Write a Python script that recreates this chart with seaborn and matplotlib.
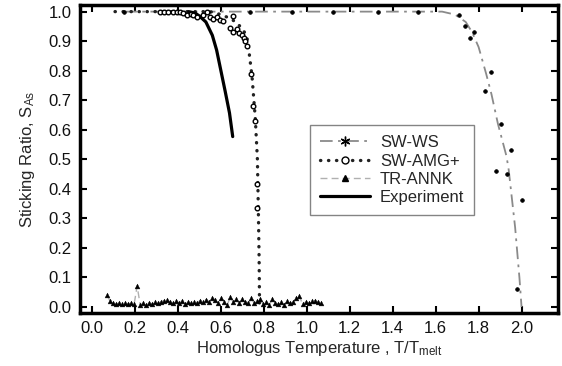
import numpy as np
import pandas as pd
import matplotlib
matplotlib.use("Agg")
import matplotlib.pyplot as plt
import seaborn as sns
from matplotlib.lines import Line2D

# SW-WS: fitted curve and simulation points
ws_line_x = [0.15, 1.63, 1.69, 1.74, 1.77, 1.80, 1.835, 1.86, 1.89, 1.93, 1.94, 1.97, 1.99, 2.0]
ws_line_y = [1.0, 1.0, 0.99, 0.965, 0.93, 0.88, 0.79, 0.72, 0.62, 0.51, 0.465, 0.27, 0.10, 0.0]
ws_pts_x = [0.15, 0.34, 0.54, 0.735, 0.93, 1.12, 1.33, 1.52, 1.71, 1.735, 1.78, 1.76,
            1.856, 1.83, 1.906, 1.953, 1.88, 1.93, 2.003, 1.98]
ws_pts_y = [1.0, 1.0, 1.0, 1.0, 1.0, 1.0, 1.0, 1.0, 0.99, 0.953, 0.93, 0.91,
            0.797, 0.73, 0.62, 0.53, 0.46, 0.45, 0.363, 0.06]

# SW-AMG+: dotted curve and open-circle points
amg_line_x = [0.107, 0.55, 0.60, 0.65, 0.69, 0.72, 0.73, 0.745, 0.76, 0.77, 0.775, 0.778, 0.78, 0.782]
amg_line_y = [1.0, 1.0, 0.99, 0.975, 0.95, 0.92, 0.87, 0.78, 0.64, 0.50, 0.30, 0.16, 0.0, -0.01]
amg_pts_x = [0.316, 0.335, 0.355, 0.375, 0.395, 0.41, 0.425, 0.443, 0.459, 0.471, 0.487,
             0.518, 0.533, 0.549, 0.564, 0.580, 0.595, 0.608, 0.657, 0.642, 0.657, 0.676,
             0.685, 0.696, 0.707, 0.714, 0.722, 0.74, 0.75, 0.76, 0.766, 0.77]
amg_pts_y = [1.0, 1.0, 1.0, 1.0, 1.0, 1.0, 0.995, 0.99, 0.993, 0.987, 0.982,
             0.99, 0.998, 0.982, 0.975, 0.982, 0.97, 0.967, 0.984, 0.945, 0.93, 0.942,
             0.928, 0.922, 0.911, 0.90, 0.883, 0.79, 0.68, 0.63, 0.417, 0.335]

# TR-ANNK
annk_x = [0.070, 0.084, 0.098, 0.112, 0.126, 0.140, 0.154, 0.168, 0.182, 0.196,
          0.210, 0.224, 0.238, 0.252, 0.266, 0.280, 0.294, 0.308, 0.322, 0.336,
          0.350, 0.364, 0.378, 0.392, 0.406, 0.420, 0.434, 0.448, 0.462, 0.476,
          0.490, 0.504, 0.518, 0.532, 0.546, 0.560, 0.574, 0.588, 0.602, 0.616,
          0.630, 0.644, 0.658, 0.672, 0.686, 0.700, 0.714, 0.728, 0.742, 0.756,
          0.770, 0.784, 0.798, 0.812, 0.826, 0.840, 0.854, 0.868, 0.882, 0.896,
          0.910, 0.924, 0.938, 0.952, 0.966, 0.980, 0.994, 1.008, 1.022, 1.036,
          1.050, 1.064]
annk_y = [0.040, 0.020, 0.012, 0.010, 0.013, 0.010, 0.012, 0.011, 0.012, 0.010,
          0.071, 0.008, 0.012, 0.006, 0.014, 0.010, 0.016, 0.013, 0.018, 0.022,
          0.025, 0.016, 0.012, 0.020, 0.014, 0.020, 0.010, 0.016, 0.012, 0.018,
          0.014, 0.022, 0.016, 0.025, 0.018, 0.032, 0.024, 0.012, 0.030, 0.018,
          0.008, 0.034, 0.016, 0.026, 0.012, 0.028, 0.018, 0.014, 0.030, 0.012,
          0.022, 0.026, 0.010, 0.018, 0.008, 0.028, 0.012, 0.010, 0.016, 0.008,
          0.020, 0.014, 0.016, 0.030, 0.036, 0.010, 0.016, 0.014, 0.020, 0.022,
          0.018, 0.012]

# Experiment
exp_x = [0.45, 0.48, 0.50, 0.53, 0.56, 0.58, 0.60, 0.62, 0.64, 0.655]
exp_y = [1.0, 0.995, 0.985, 0.965, 0.92, 0.87, 0.80, 0.73, 0.657, 0.577]

labels = ["SW-WS", "SW-AMG+", "TR-ANNK", "Experiment"]

sns.set_style("ticks")
plt.rcParams["font.family"] = ["Liberation Sans", "DejaVu Sans"]
plt.rcParams["mathtext.default"] = "regular"

fig = plt.figure(figsize=(5.62, 3.66), dpi=100)
ax = fig.add_axes([0.142, 0.145, 0.851, 0.841])

gray_ws = "#8a8a8a"
gray_annk = "#b0b0b0"

# lines
sns.lineplot(x=ws_line_x, y=ws_line_y, sort=False, estimator=None, ax=ax,
             color=gray_ws, lw=1.3, linestyle=(0, (7, 3, 1.5, 3)))
sns.lineplot(x=annk_x, y=annk_y, sort=False, estimator=None, ax=ax,
             color=gray_annk, lw=1.0, linestyle=(0, (5, 3)))
sns.lineplot(x=amg_line_x, y=amg_line_y, sort=False, estimator=None, ax=ax,
             color="#222222", lw=2.4, linestyle=(0, (0.1, 2.3)), dash_capstyle="round")
sns.lineplot(x=exp_x, y=exp_y, sort=False, estimator=None, ax=ax,
             color="black", lw=2.3)

# markers
sns.scatterplot(x=ws_pts_x, y=ws_pts_y, ax=ax, marker="o", s=7, color="black",
                edgecolor="black", linewidth=0.5, zorder=4)
sns.scatterplot(x=amg_pts_x, y=amg_pts_y, ax=ax, marker="o", s=11, facecolor="white",
                edgecolor="black", linewidth=1.0, zorder=4)
sns.scatterplot(x=annk_x, y=annk_y, ax=ax, marker="^", s=12, color="black",
                edgecolor="black", linewidth=0.3, zorder=4)

ax.set_xlim(-0.057, 2.17)
ax.set_ylim(-0.02, 1.022)
ax.set_xticks(np.arange(0, 2.01, 0.2))
ax.set_yticks(np.arange(0, 1.01, 0.1))
ax.set_xticklabels([f"{v:.1f}" for v in np.arange(0, 2.01, 0.2)])
ax.set_yticklabels([f"{v:.1f}" for v in np.arange(0, 1.01, 0.1)])
ax.tick_params(direction="in", length=5, width=1.5, top=True, right=True,
               labelsize=12, pad=6, color="black", labelcolor="#111111")
for sp in ax.spines.values():
    sp.set_visible(True)
    sp.set_linewidth(2.5)
    sp.set_color("black")

ax.set_xlabel("Homologus Temperature , T/T$_{melt}$", fontsize=12, labelpad=2)
ax.set_ylabel("Sticking Ratio, S$_{As}$", fontsize=12, labelpad=8)

handles = [
    Line2D([], [], color=gray_ws, lw=1.3, linestyle=(0, (7, 3, 1.5, 3)),
           marker=(6, 2, 0), markersize=7, markeredgecolor="black", markeredgewidth=1.0),
    Line2D([], [], color="#222222", lw=2.4, linestyle=(0, (0.1, 2.3)), dash_capstyle="round",
           marker="o", markersize=5, markerfacecolor="white", markeredgecolor="black",
           markeredgewidth=1.0),
    Line2D([], [], color=gray_annk, lw=1.0, linestyle=(0, (5, 3)),
           marker="^", markersize=5, markerfacecolor="black", markeredgecolor="black"),
    Line2D([], [], color="black", lw=2.3),
]
leg = ax.legend(handles, labels, loc="upper left", bbox_to_anchor=(0.481, 0.61),
                borderaxespad=0, fontsize=12, frameon=True, fancybox=False,
                handlelength=3.0, handletextpad=0.6, labelspacing=0.2,
                borderpad=0.6, edgecolor="#666666")
leg.get_frame().set_linewidth(1.0)

fig.savefig("out.png", dpi=100)
